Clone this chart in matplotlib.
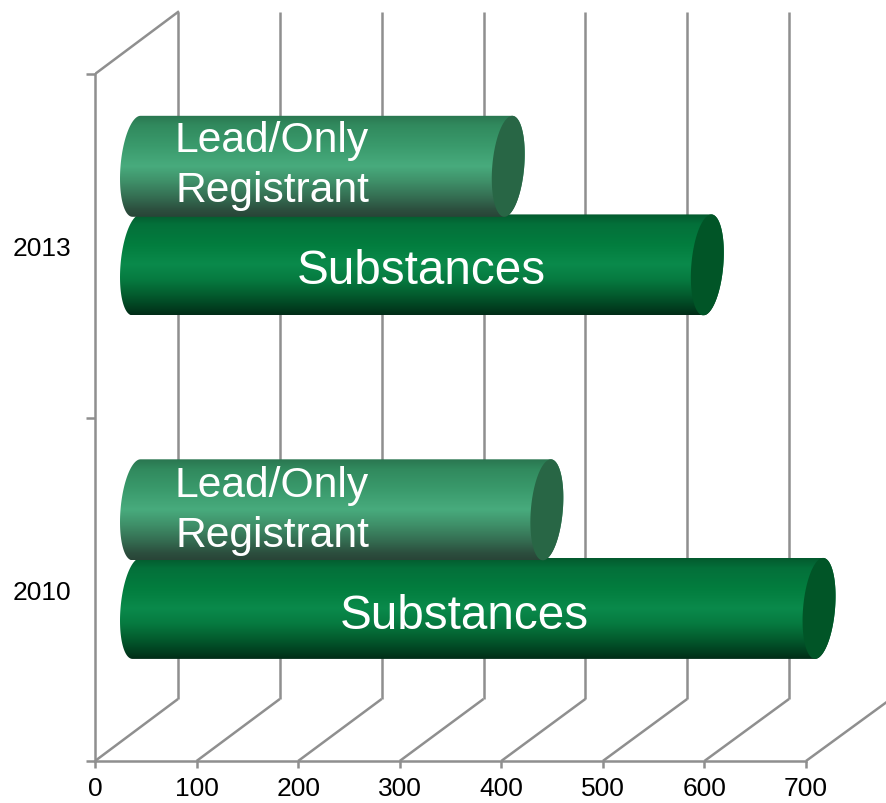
import numpy as np
import matplotlib
matplotlib.use("Agg")
from matplotlib import pyplot as plt
from matplotlib.colors import LinearSegmentedColormap
from matplotlib.patches import PathPatch, Polygon
from matplotlib.path import Path

years = ["2010", "2013"]
substances = [672, 562]
lead_only = [404, 366]
x_ticks = [0, 100, 200, 300, 400, 500, 600, 700]

plt.rcParams['font.family'] = ['Liberation Sans', 'DejaVu Sans']

W, H = 887, 804
x0_px, y0_px = 95, 762
px_per_x = (806 - 95) / 700.0   # pixels per unit of value
px_per_cat = (762 - 75) / 2.0   # pixels per category

grey = '#8f8f8f'
depth_x = 83 / px_per_x
depth_y = 62 / px_per_cat
back_scale = 1.0026             # back wall comes out a touch wider than the front
bar_h = 101 / px_per_cat
cap_w = 16 / px_per_x
shear = 4 / px_per_x

fig = plt.figure(figsize=(W / 100, H / 100), dpi=100)
ax = fig.add_axes([x0_px / W, (H - y0_px) / H, (W - x0_px) / W, y0_px / H])
ax.set_facecolor('white')

sub_cmap = LinearSegmentedColormap.from_list('sub', [
    (0.0, '#035a2e'), (0.1, '#04703a'), (0.3, '#027d3e'), (0.5, '#0a8a4b'),
    (0.65, '#067a40'), (0.8, '#035c2e'), (0.93, '#013e1f'), (1.0, '#012c17')])
lead_cmap = LinearSegmentedColormap.from_list('lead', [
    (0.0, '#2a7650'), (0.1, '#318a5e'), (0.3, '#3a9a6c'), (0.5, '#48ab7d'),
    (0.65, '#3f9069'), (0.8, '#356f53'), (0.93, '#2c4f3e'), (1.0, '#294437')])


def ellipse(xc, yc, t):
    return xc + cap_w * np.cos(t) + shear * np.sin(t), yc + bar_h / 2 * np.sin(t)


def draw_bar(value, yc, cmap, cap_color, z):
    # body: left half of the start ellipse + right half of the end ellipse
    lx, ly = ellipse(depth_x / 2, yc, np.linspace(np.pi / 2, 3 * np.pi / 2, 60))
    rx, ry = ellipse(depth_x / 2 + value, yc, np.linspace(-np.pi / 2, np.pi / 2, 60))
    verts = np.column_stack([np.r_[lx, rx], np.r_[ly, ry]])
    body = PathPatch(Path(np.vstack([verts, verts[0]]), closed=True), fc='none', ec='none', transform=ax.transData)
    ax.add_patch(body)
    grad = np.linspace(0, 1, 256).reshape(-1, 1)
    im = ax.imshow(grad, cmap=cmap, aspect='auto', origin='upper', zorder=z, interpolation='bilinear',
                   extent=[0, depth_x + value + cap_w * 2, yc - bar_h / 2, yc + bar_h / 2])
    im.set_clip_path(body)
    cx, cy = ellipse(depth_x / 2 + value, yc, np.linspace(0, 2 * np.pi, 120))
    ax.add_patch(Polygon(np.column_stack([cx, cy]), closed=True, fc=cap_color, ec='none', zorder=z + 0.1))


# walls and floor lines
for v in x_ticks:
    back = v * back_scale + depth_x
    ax.plot([v, back], [0, depth_y], color=grey, lw=1.8, zorder=1, solid_capstyle='butt')
    ax.plot([back, back], [depth_y, 2 + depth_y], color=grey, lw=1.8, zorder=1, solid_capstyle='butt')
ax.plot([0, depth_x], [2, 2 + depth_y], color=grey, lw=1.8, zorder=1)

for i in range(len(years)):
    yc = i + 0.5 + depth_y / 2
    draw_bar(substances[i], yc - bar_h / 2 + 0.001, sub_cmap, '#015527', 2)
    draw_bar(lead_only[i], yc + bar_h / 2 - 0.006, lead_cmap, '#286645', 3)


def to_x(px):
    return (px - x0_px) / px_per_x


def to_y(px):
    return (y0_px - px) / px_per_cat


# labels on the bars
white = dict(color='white', zorder=6, ha='center', va='center')
ax.text(to_x(421), to_y(272), 'Substances', fontsize=34.3, **white)
ax.text(to_x(464), to_y(617), 'Substances', fontsize=34.3, **white)
ax.text(to_x(272), to_y(166), 'Lead/Only\nRegistrant', fontsize=30.7, linespacing=1.33, **white)
ax.text(to_x(272), to_y(511), 'Lead/Only\nRegistrant', fontsize=30.7, linespacing=1.33, **white)

ax.set_xlim(0, (W - x0_px) / px_per_x)
ax.set_ylim(0, y0_px / px_per_cat)

ax.set_xticks(x_ticks)
ax.set_yticks([0, 1, 2])
ax.set_yticklabels([])
ax.set_yticks([0.5, 1.5], minor=True)
ax.set_yticklabels(years, minor=True)
ax.tick_params(axis='x', length=5, width=1.8, color=grey, labelsize=19, pad=6, labelcolor='black')
ax.tick_params(axis='y', which='major', length=6.5, width=1.8, color=grey)
ax.tick_params(axis='y', which='minor', length=0, labelsize=19, pad=17, labelcolor='black')

for s in ['top', 'right']:
    ax.spines[s].set_visible(False)
ax.spines['left'].set_bounds(0, 2)
ax.spines['bottom'].set_bounds(0, 700)
ax.spines['left'].set_color(grey)
ax.spines['bottom'].set_color(grey)
ax.spines['left'].set_linewidth(1.8)
ax.spines['bottom'].set_linewidth(1.8)

fig.savefig('out.png', dpi=100, facecolor='white')
